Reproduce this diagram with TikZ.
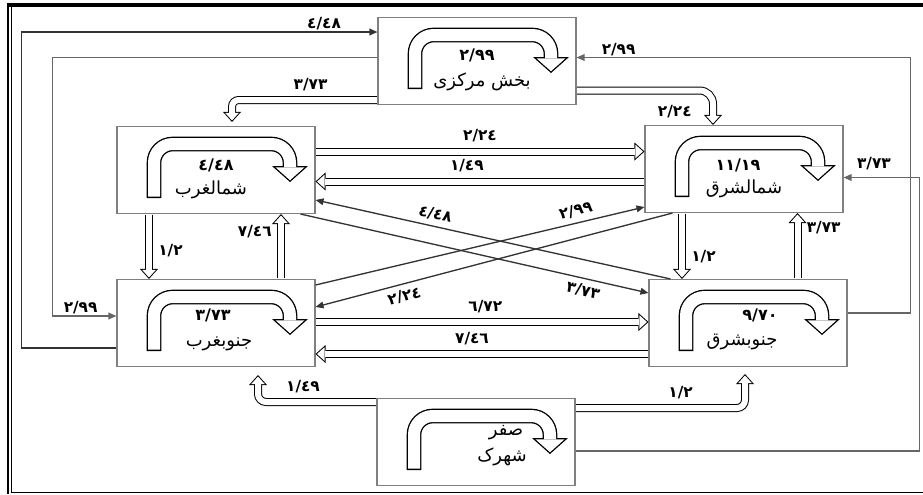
\documentclass[tikz,border=0pt]{standalone}
\usepackage{fontspec}
\newfontfamily\arabicfont[Script=Arabic]{DejaVu Sans}
\TeXXeTstate=1
\usetikzlibrary{arrows.meta}

\tikzset{
  region/.style={draw=black!50, line width=0.8pt, minimum width=148.5pt,
    minimum height=65.25pt, inner sep=0pt},
  flow/.style={draw=black!80, line width=1pt, -{Triangle[length=6pt,width=5pt]}},
  hollow/.style={draw=black, line width=6pt, shorten <=0.4pt,
    -{Triangle[line width=0pt,length=7.5pt,width=13.5pt]},
    postaction={draw=white, line width=4.5pt, shorten >=1.12pt,
      -{Triangle[line width=0pt,length=5.63pt,width=10.13pt]}}},
  turn/.style={draw=black, line width=11pt, rounded corners=14pt,
    -{Triangle[line width=0pt,length=12pt,width=27pt]},
    postaction={draw=white, line width=9pt, shorten <=1pt, shorten >=1.34pt,
      -{Triangle[line width=0pt,length=9.66pt,width=21.7pt]}}},
  val/.style={font=\arabicfont\bfseries\fontsize{11.5}{13}\selectfont, inner sep=1pt},
  boxnum/.style={font=\arabicfont\bfseries\fontsize{12}{14}\selectfont, inner sep=0pt},
  boxname/.style={font=\arabicfont\fontsize{13.5}{15}\selectfont, inner sep=0pt},
}

\begin{document}
\begin{tikzpicture}[x=0.75pt,y=-0.75pt]
\useasboundingbox (0,0) rectangle (923,494);
% frame
\draw[line width=3pt] (7,5) -- (923,5);
\draw[line width=1.4pt] (8.3,3.5) -- (8.3,494);
\draw[line width=1.2pt] (11.3,6.5) -- (11.3,492.5);
\draw[line width=0.9pt] (10.5,492.5) -- (923,492.5);

% regions
\node[region] (cen) at (477,61) {};
\node[region] (nw) at (216,170) {};
\node[region] (ne) at (744,169) {};
\node[region] (sw) at (216,323) {};
\node[region] (se) at (748,323) {};
\node[region] (bot) at (476,442) {};

% inner turn arrows
\foreach \reg in {cen,nw,ne,sw,se,bot}
  \draw[turn] ([shift={(-62,28)}]\reg.center) |- ([shift={(74,-26)}]\reg.center)
    -- ([shift={(74,12)}]\reg.center);

\node[boxnum] (cennum) at ([shift={(0,-6)}]cen.center) {٢/٩٩};
\node[boxname] (cenname) at ([shift={(5,21)}]cen.center) {\beginR بخش مرکزی\endR};
\node[boxnum] (nwnum) at ([shift={(0,-5)}]nw.center) {٤/٤٨};
\node[boxname] (nwname) at ([shift={(-5,20)}]nw.center) {\beginR شمالغرب\endR};
\node[boxnum] (nenum) at ([shift={(-6,-4)}]ne.center) {١١/١٩};
\node[boxname] (nename) at ([shift={(0,20)}]ne.center) {\beginR شمالشرق\endR};
\node[boxnum] (swnum) at ([shift={(-3,-8)}]sw.center) {٣/٧٣};
\node[boxname] (swname) at ([shift={(3,21)}]sw.center) {\beginR جنوبغرب\endR};
\node[boxnum] (senum) at ([shift={(12,-8)}]se.center) {٩/٧٠};
\node[boxname] (sename) at ([shift={(-6,19)}]se.center) {\beginR جنوبشرق\endR};
\node[boxname] (botnum) at ([shift={(30,-9)}]bot.center) {\beginR صفر\endR};
\node[boxname] (botname) at ([shift={(26,15)}]bot.center) {\beginR شهرک\endR};

% outer loops
\draw[flow] ([shift={(0,25)}]sw.west) -- ++(-95,0) |- ([shift={(0,-29)}]cen.west)
  node[val,pos=0.925,above] (l1) {٤/٤٨};
\draw[flow, draw=black!60] ([shift={(0,-3.5)}]cen.west) -- ++(-325,0) |- ([shift={(0,-7)}]sw.west)
  node[val,pos=0.72,above] (l2) {٢/٩٩};
\draw[flow, draw=black!60] ([shift={(0,-10)}]se.east) -- ++(63,0) |- ([shift={(0,-3.5)}]cen.east)
  node[val,pos=0.937,above] (l3) {٢/٩٩};
\draw[flow, draw=black!60] ([shift={(0,9)}]bot.east) -- ++(344,0) |- ([shift={(0,8.5)}]ne.east)
  node[val,pos=0.8,above=4pt] (l4) {٣/٧٣};

% hollow flows
\draw[hollow, rounded corners=5pt] ([shift={(0,39)}]cen.west) -| ([shift={(16,-4)}]nw.north)
  node[val,pos=0.23,above=3pt] (l5) {٣/٧٣};
\draw[hollow, rounded corners=10pt] ([shift={(0,29.5)}]cen.east) -| ([shift={(-31,0)}]ne.north)
  node[val,pos=0.36,below=7pt] (l6) {٢/٢٤};
\draw[hollow] ([shift={(0,-18.5)}]nw.east) -- ([shift={(0,-17.5)}]ne.west)
  node[val,midway,above=3pt] (l7) {٢/٢٤};
\draw[hollow] ([shift={(0,12.5)}]ne.west) -- ([shift={(0,11.5)}]nw.east)
  node[val,pos=0.54,above=3pt] (l8) {١/٤٩};
\draw[hollow] ([shift={(-67,0)}]nw.south) -- ([shift={(-67,0)}]sw.north)
  node[val,pos=0.57,right=3pt] (l9) {١/٢};
\draw[hollow] ([shift={(65,0)}]sw.north) -- ([shift={(65,0)}]nw.south)
  node[val,pos=0.73,left=3pt] (l10) {٧/٤٦};
\draw[hollow] ([shift={(-62,0)}]ne.south) -- ([shift={(-66,0)}]se.north)
  node[val,pos=0.66,right=3pt] (l11) {١/٢};
\draw[hollow] ([shift={(49.5,0)}]se.north) -- ([shift={(53.5,0)}]ne.south)
  node[val,pos=0.78,right=3pt] (l12) {٣/٧٣};
\draw[hollow] ([shift={(0,-1)}]sw.east) -- ([shift={(0,-1)}]se.west)
  node[val,pos=0.51,above=3pt] (l13) {٦/٧٢};
\draw[hollow] ([shift={(0,31)}]se.west) -- ([shift={(0,31)}]sw.east)
  node[val,pos=0.53,above=3pt] (l14) {٧/٤٦};
\draw[hollow, rounded corners=6pt] ([shift={(0,-40)}]bot.west) -| ([shift={(42,8)}]sw.south)
  node[val,pos=0.31,above=3pt] (l15) {١/٤٩};
\draw[hollow, rounded corners=6pt] ([shift={(0,-34)}]bot.east) -| ([shift={(-3,7)}]se.south)
  node[val,pos=0.31,above=3pt] (l16) {١/٢};

% crossing flows
\draw[flow] ([shift={(22,0)}]se.north west) -- ([shift={(0,30)}]nw.east)
  node[val,pos=0.67,sloped,above=3pt] (l17) {٤/٤٨};
\draw[flow] ([shift={(-15,0)}]nw.south east) -- ([shift={(0,-30)}]se.west)
  node[val,pos=0.82,sloped,below=3pt] (l18) {٣/٧٣};
\draw[flow] ([shift={(0,-38)}]sw.east) -- ([shift={(0,38)}]ne.west)
  node[val,pos=0.8,sloped,above=3pt] (l19) {٢/٩٩};
\draw[flow] ([shift={(28,0)}]ne.south west) -- ([shift={(0,-16)}]sw.east)
  node[val,pos=0.76,sloped,below=3pt] (l20) {٢/٢٤};
\end{tikzpicture}
\end{document}
